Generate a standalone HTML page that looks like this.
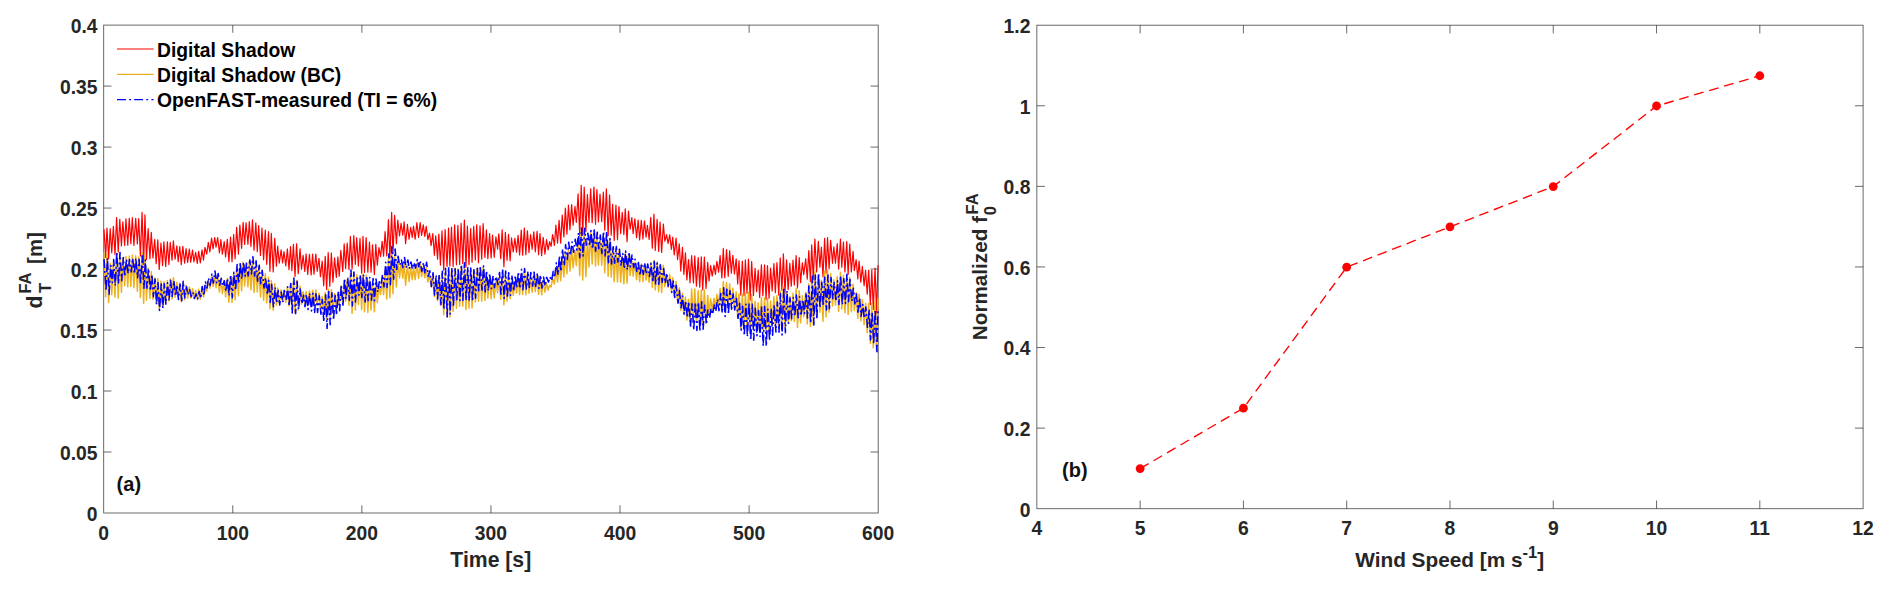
<!DOCTYPE html>
<html><head><meta charset="utf-8"><title>Figure</title>
<style>
html,body{margin:0;padding:0;background:#fff;}
svg{display:block}
text{font-family:"Liberation Sans",Arial,Helvetica,sans-serif;font-weight:bold;}
.t{font-size:19.3px;fill:#262626}
.lab{font-size:21.2px;fill:#262626}
.sup{font-size:16.6px;fill:#262626}
.leg{font-size:19.3px;fill:#000}
.ann{font-size:20px;fill:#111}
</style></head><body>
<svg width="1892" height="591" viewBox="0 0 1892 591">
<rect width="1892" height="591" fill="#fff"/>
<rect x="103.7" y="25.1" width="774.5" height="487.9" fill="none" stroke="#262626" stroke-width="0.85" opacity="0.8"/>
<text x="103.70" y="539.5" text-anchor="middle" class="t">0</text>
<path d="M232.78,513.0 v-7.7 M232.78,25.1 v7.7" stroke="#262626" stroke-width="0.85" opacity="0.8"/>
<text x="232.78" y="539.5" text-anchor="middle" class="t">100</text>
<path d="M361.87,513.0 v-7.7 M361.87,25.1 v7.7" stroke="#262626" stroke-width="0.85" opacity="0.8"/>
<text x="361.87" y="539.5" text-anchor="middle" class="t">200</text>
<path d="M490.95,513.0 v-7.7 M490.95,25.1 v7.7" stroke="#262626" stroke-width="0.85" opacity="0.8"/>
<text x="490.95" y="539.5" text-anchor="middle" class="t">300</text>
<path d="M620.03,513.0 v-7.7 M620.03,25.1 v7.7" stroke="#262626" stroke-width="0.85" opacity="0.8"/>
<text x="620.03" y="539.5" text-anchor="middle" class="t">400</text>
<path d="M749.12,513.0 v-7.7 M749.12,25.1 v7.7" stroke="#262626" stroke-width="0.85" opacity="0.8"/>
<text x="749.12" y="539.5" text-anchor="middle" class="t">500</text>
<text x="878.20" y="539.5" text-anchor="middle" class="t">600</text>
<text x="97.5" y="520.90" text-anchor="end" class="t">0</text>
<path d="M103.7,452.01 h7.7 M878.2,452.01 h-7.7" stroke="#262626" stroke-width="0.85" opacity="0.8"/>
<text x="97.5" y="459.91" text-anchor="end" class="t">0.05</text>
<path d="M103.7,391.02 h7.7 M878.2,391.02 h-7.7" stroke="#262626" stroke-width="0.85" opacity="0.8"/>
<text x="97.5" y="398.92" text-anchor="end" class="t">0.1</text>
<path d="M103.7,330.04 h7.7 M878.2,330.04 h-7.7" stroke="#262626" stroke-width="0.85" opacity="0.8"/>
<text x="97.5" y="337.94" text-anchor="end" class="t">0.15</text>
<path d="M103.7,269.05 h7.7 M878.2,269.05 h-7.7" stroke="#262626" stroke-width="0.85" opacity="0.8"/>
<text x="97.5" y="276.95" text-anchor="end" class="t">0.2</text>
<path d="M103.7,208.06 h7.7 M878.2,208.06 h-7.7" stroke="#262626" stroke-width="0.85" opacity="0.8"/>
<text x="97.5" y="215.96" text-anchor="end" class="t">0.25</text>
<path d="M103.7,147.08 h7.7 M878.2,147.08 h-7.7" stroke="#262626" stroke-width="0.85" opacity="0.8"/>
<text x="97.5" y="154.98" text-anchor="end" class="t">0.3</text>
<path d="M103.7,86.09 h7.7 M878.2,86.09 h-7.7" stroke="#262626" stroke-width="0.85" opacity="0.8"/>
<text x="97.5" y="93.99" text-anchor="end" class="t">0.35</text>
<text x="97.5" y="33.00" text-anchor="end" class="t">0.4</text>
<text x="490.8" y="567.4" text-anchor="middle" class="lab">Time [s]</text>
<text transform="translate(41.7,308.6) rotate(-90)" class="lab">d</text>
<text transform="translate(31.2,293.6) rotate(-90)" class="sup">FA</text>
<text transform="translate(50.8,293.0) rotate(-90)" class="sup">T</text>
<text transform="translate(41.7,263.9) rotate(-90)" class="lab" style="font-size:20.4px">[m]</text>
<text x="116.6" y="490.7" class="ann">(a)</text>
<path d="M117,49 H153.6" stroke="#FF0000" stroke-width="1.2"/>
<text x="157" y="56.5" class="leg">Digital Shadow</text>
<path d="M117,74.4 H153.6" stroke="#EDB120" stroke-width="1.2"/>
<text x="157" y="82.1" class="leg">Digital Shadow (BC)</text>
<path d="M117,99.6 H153.6" stroke="#0000FF" stroke-width="1.2" stroke-dasharray="8.9 3.2 1.9 3.2"/>
<text x="157" y="107.2" class="leg">OpenFAST-measured (TI = 6%)</text>
<rect x="1036.85" y="25.2" width="826.25" height="483.5" fill="none" stroke="#262626" stroke-width="0.85" opacity="0.8"/>
<text x="1036.85" y="535.4" text-anchor="middle" class="t">4</text>
<path d="M1140.13,508.7 v-8.2 M1140.13,25.2 v8.2" stroke="#262626" stroke-width="0.85" opacity="0.8"/>
<text x="1140.13" y="535.4" text-anchor="middle" class="t">5</text>
<path d="M1243.41,508.7 v-8.2 M1243.41,25.2 v8.2" stroke="#262626" stroke-width="0.85" opacity="0.8"/>
<text x="1243.41" y="535.4" text-anchor="middle" class="t">6</text>
<path d="M1346.69,508.7 v-8.2 M1346.69,25.2 v8.2" stroke="#262626" stroke-width="0.85" opacity="0.8"/>
<text x="1346.69" y="535.4" text-anchor="middle" class="t">7</text>
<path d="M1449.97,508.7 v-8.2 M1449.97,25.2 v8.2" stroke="#262626" stroke-width="0.85" opacity="0.8"/>
<text x="1449.97" y="535.4" text-anchor="middle" class="t">8</text>
<path d="M1553.26,508.7 v-8.2 M1553.26,25.2 v8.2" stroke="#262626" stroke-width="0.85" opacity="0.8"/>
<text x="1553.26" y="535.4" text-anchor="middle" class="t">9</text>
<path d="M1656.54,508.7 v-8.2 M1656.54,25.2 v8.2" stroke="#262626" stroke-width="0.85" opacity="0.8"/>
<text x="1656.54" y="535.4" text-anchor="middle" class="t">10</text>
<path d="M1759.82,508.7 v-8.2 M1759.82,25.2 v8.2" stroke="#262626" stroke-width="0.85" opacity="0.8"/>
<text x="1759.82" y="535.4" text-anchor="middle" class="t">11</text>
<text x="1863.10" y="535.4" text-anchor="middle" class="t">12</text>
<text x="1030.4" y="516.60" text-anchor="end" class="t">0</text>
<path d="M1036.85,428.12 h8.2 M1863.1,428.12 h-8.2" stroke="#262626" stroke-width="0.85" opacity="0.8"/>
<text x="1030.4" y="436.02" text-anchor="end" class="t">0.2</text>
<path d="M1036.85,347.53 h8.2 M1863.1,347.53 h-8.2" stroke="#262626" stroke-width="0.85" opacity="0.8"/>
<text x="1030.4" y="355.43" text-anchor="end" class="t">0.4</text>
<path d="M1036.85,266.95 h8.2 M1863.1,266.95 h-8.2" stroke="#262626" stroke-width="0.85" opacity="0.8"/>
<text x="1030.4" y="274.85" text-anchor="end" class="t">0.6</text>
<path d="M1036.85,186.37 h8.2 M1863.1,186.37 h-8.2" stroke="#262626" stroke-width="0.85" opacity="0.8"/>
<text x="1030.4" y="194.27" text-anchor="end" class="t">0.8</text>
<path d="M1036.85,105.78 h8.2 M1863.1,105.78 h-8.2" stroke="#262626" stroke-width="0.85" opacity="0.8"/>
<text x="1030.4" y="113.68" text-anchor="end" class="t">1</text>
<text x="1030.4" y="33.10" text-anchor="end" class="t">1.2</text>
<text x="1449.7" y="567.4" text-anchor="middle" class="lab" style="font-size:20.8px">Wind Speed [m s<tspan dy="-9.8" font-size="16.5">-1</tspan><tspan dy="9.8">]</tspan></text>
<text transform="translate(987,340.2) rotate(-90)" class="lab" style="font-size:20.7px">Normalized f</text>
<text transform="translate(977.8,214.4) rotate(-90)" class="sup">FA</text>
<text transform="translate(996.1,215.2) rotate(-90)" class="sup">0</text>
<text x="1062" y="477.2" class="ann">(b)</text>
<path d="M1140.13,468.61 L1243.41,408.17 L1346.69,267.15 L1449.97,226.86 L1553.26,186.57 L1656.54,105.98 L1759.82,75.76" fill="none" stroke="#FF0000" stroke-width="1.35" stroke-dasharray="9.8 5.8"/>
<circle cx="1140.13" cy="468.61" r="4.4" fill="#FF0000"/>
<circle cx="1243.41" cy="408.17" r="4.4" fill="#FF0000"/>
<circle cx="1346.69" cy="267.15" r="4.4" fill="#FF0000"/>
<circle cx="1449.97" cy="226.86" r="4.4" fill="#FF0000"/>
<circle cx="1553.26" cy="186.57" r="4.4" fill="#FF0000"/>
<circle cx="1656.54" cy="105.98" r="4.4" fill="#FF0000"/>
<circle cx="1759.82" cy="75.76" r="4.4" fill="#FF0000"/>
<path d="M104.00,229.40 L105.66,257.35 L106.98,228.07 L108.67,258.97 L110.19,228.71 L111.75,252.83 L113.37,226.41 L115.00,254.77 L116.60,217.54 L118.23,252.00 L119.77,219.28 L121.45,245.88 L122.85,221.89 L124.68,245.40 L125.95,218.83 L127.76,245.24 L129.25,218.39 L130.88,243.74 L132.31,217.71 L133.91,245.48 L135.71,218.27 L137.35,244.00 L138.69,218.71 L140.41,255.93 L142.06,212.38 L143.64,264.76 L144.93,214.90 L146.49,259.36 L148.12,228.70 L149.96,258.81 L151.26,232.28 L152.95,257.93 L154.72,239.24 L156.15,263.66 L157.79,239.93 L159.23,269.47 L160.95,243.19 L162.58,265.56 L163.87,241.76 L165.71,266.48 L167.38,241.89 L168.87,264.56 L170.28,242.36 L172.04,260.15 L173.38,240.96 L175.08,259.21 L176.83,245.95 L178.19,261.57 L179.76,246.58 L181.29,264.59 L182.83,246.34 L184.64,263.25 L186.06,248.61 L187.66,262.42 L189.32,249.17 L190.74,262.09 L192.51,250.14 L193.93,261.79 L195.67,252.30 L197.29,263.35 L198.66,251.31 L200.35,262.84 L202.03,249.77 L203.51,260.24 L204.96,247.41 L206.71,254.10 L208.34,242.45 L209.87,251.82 L211.60,238.06 L213.05,249.02 L214.75,237.53 L216.05,247.27 L217.63,237.50 L219.45,252.83 L220.88,239.64 L222.38,254.13 L224.23,241.70 L225.61,256.96 L227.33,239.23 L228.90,261.68 L230.54,237.11 L232.02,261.66 L233.65,234.45 L235.09,258.80 L236.64,227.28 L238.44,254.24 L239.85,225.00 L241.63,248.30 L243.10,222.27 L244.66,244.38 L246.06,222.82 L247.94,244.29 L249.34,221.66 L250.97,246.56 L252.49,219.85 L254.01,250.16 L255.83,222.78 L257.29,251.72 L258.66,225.66 L260.46,255.37 L261.94,228.19 L263.59,259.81 L265.30,230.10 L266.69,264.32 L268.47,231.72 L269.94,271.35 L271.31,233.42 L273.21,271.92 L274.71,238.26 L276.40,266.18 L277.68,246.12 L279.25,263.26 L281.12,249.93 L282.61,263.01 L283.96,251.53 L285.79,265.88 L287.37,248.95 L289.01,269.68 L290.52,246.48 L291.88,270.66 L293.43,244.33 L295.01,276.45 L296.59,243.74 L298.25,273.65 L300.05,248.83 L301.51,269.09 L303.10,255.28 L304.78,271.43 L306.10,253.95 L307.74,274.54 L309.43,254.40 L311.15,274.98 L312.58,254.14 L313.97,274.13 L315.83,254.07 L317.20,271.32 L318.99,258.30 L320.42,276.61 L322.17,260.98 L323.71,285.80 L325.22,256.30 L326.65,289.41 L328.20,252.49 L329.80,286.29 L331.36,253.13 L332.96,282.21 L334.58,257.83 L336.34,277.42 L337.86,256.95 L339.24,276.11 L340.85,250.36 L342.75,271.38 L344.18,243.95 L345.63,268.39 L347.23,243.01 L348.99,269.75 L350.37,236.46 L352.09,268.88 L353.81,235.69 L355.34,264.32 L356.71,237.67 L358.38,265.97 L360.00,238.46 L361.66,273.16 L363.00,236.37 L364.53,272.37 L366.13,237.65 L367.86,272.18 L369.48,242.07 L371.04,272.13 L372.53,244.81 L374.36,274.58 L375.79,244.35 L377.30,265.15 L378.94,247.58 L380.59,256.75 L382.14,241.41 L383.58,256.21 L385.08,231.63 L386.77,255.85 L388.45,219.61 L389.88,258.06 L391.65,212.23 L392.98,253.81 L394.63,215.39 L396.41,243.66 L397.77,220.03 L399.51,235.95 L401.05,223.36 L402.77,235.24 L404.11,221.74 L405.62,243.60 L407.44,224.47 L409.04,239.26 L410.67,227.27 L412.26,237.45 L413.51,226.07 L415.16,239.26 L416.88,222.71 L418.58,237.52 L420.16,222.56 L421.60,235.34 L423.31,224.81 L424.79,236.42 L426.28,226.45 L427.89,239.67 L429.52,233.02 L431.08,245.69 L432.79,233.57 L434.37,255.19 L435.76,235.87 L437.55,259.25 L438.84,234.07 L440.41,265.04 L441.99,230.93 L443.70,270.33 L445.11,229.69 L447.02,266.50 L448.56,228.06 L449.85,266.08 L451.48,227.05 L453.12,266.56 L454.63,224.93 L456.45,264.65 L457.86,225.43 L459.66,264.41 L461.11,223.40 L462.80,263.54 L464.36,220.14 L465.97,267.25 L467.39,226.15 L469.00,264.56 L470.67,228.51 L472.06,262.21 L473.72,226.34 L475.34,259.97 L476.71,224.88 L478.49,262.67 L480.02,225.75 L481.73,259.26 L483.13,223.68 L484.92,257.53 L486.39,229.84 L487.83,258.75 L489.62,233.60 L491.14,258.06 L492.52,235.14 L494.23,257.31 L495.90,236.96 L497.57,249.12 L498.82,233.84 L500.75,258.77 L502.12,229.76 L503.91,266.62 L505.36,232.32 L507.02,260.23 L508.51,234.44 L510.11,260.79 L511.56,237.97 L513.25,251.83 L514.89,238.40 L516.51,252.21 L518.05,235.31 L519.61,254.84 L521.25,230.04 L522.64,255.10 L524.34,228.02 L525.84,254.68 L527.40,230.77 L528.99,252.54 L530.56,234.67 L532.11,249.17 L533.80,231.86 L535.31,251.81 L537.09,231.38 L538.56,254.67 L539.97,233.66 L541.63,255.62 L543.18,237.25 L544.93,254.08 L546.54,239.51 L548.13,249.84 L549.62,241.58 L551.06,246.41 L552.63,234.48 L554.43,245.37 L555.89,225.22 L557.57,243.07 L559.07,220.30 L560.70,243.17 L562.21,215.19 L563.88,236.97 L565.38,208.01 L566.93,234.09 L568.46,204.98 L569.94,229.63 L571.64,204.65 L573.11,225.10 L575.01,206.47 L576.31,222.45 L578.11,193.73 L579.71,235.70 L581.23,185.27 L582.77,234.75 L584.20,187.18 L585.89,231.38 L587.42,194.60 L588.96,222.47 L590.67,188.90 L592.15,222.61 L593.95,186.98 L595.53,224.32 L596.87,189.59 L598.40,221.85 L600.01,194.15 L601.70,221.61 L603.36,192.18 L604.75,230.31 L606.35,188.92 L608.15,235.42 L609.57,195.13 L611.22,235.24 L612.66,204.30 L614.20,240.43 L615.93,205.22 L617.49,239.65 L618.95,206.59 L620.70,233.55 L622.26,212.34 L623.88,234.55 L625.27,208.86 L627.07,241.76 L628.46,211.15 L630.15,229.11 L631.82,217.55 L633.13,233.76 L634.82,218.91 L636.59,237.58 L638.16,220.09 L639.63,239.92 L641.33,220.42 L642.94,239.06 L644.48,220.84 L646.07,237.12 L647.38,225.29 L649.15,239.51 L650.75,217.43 L652.30,248.20 L653.95,214.22 L655.25,250.44 L657.10,219.42 L658.66,251.51 L660.07,222.19 L661.65,252.45 L663.37,224.08 L664.84,241.25 L666.59,234.53 L668.04,243.34 L669.74,234.81 L671.40,249.45 L672.73,237.22 L674.25,254.86 L676.10,238.07 L677.55,259.65 L679.29,243.90 L680.75,271.06 L682.46,247.29 L683.88,274.36 L685.45,252.83 L686.89,280.01 L688.55,259.61 L690.01,282.82 L691.64,255.69 L693.43,282.90 L694.75,255.91 L696.45,286.13 L698.21,257.65 L699.73,287.13 L701.31,256.95 L702.71,289.93 L704.38,257.05 L706.01,288.58 L707.74,262.42 L709.03,280.92 L710.63,265.67 L712.21,276.07 L713.97,265.15 L715.44,274.45 L716.88,261.33 L718.62,272.09 L720.10,255.66 L721.89,277.98 L723.29,248.46 L724.77,277.77 L726.55,249.49 L728.22,276.28 L729.64,250.86 L731.35,273.11 L732.84,255.31 L734.43,273.93 L736.17,258.73 L737.69,284.03 L738.99,260.88 L740.82,295.27 L742.31,261.17 L744.06,295.61 L745.38,259.94 L746.98,293.20 L748.49,259.17 L750.19,300.08 L751.66,261.57 L753.43,295.47 L755.07,268.29 L756.61,291.75 L758.22,270.09 L759.64,297.36 L761.40,264.87 L762.83,295.82 L764.56,264.79 L766.07,299.66 L767.47,265.62 L769.03,298.28 L770.59,268.07 L772.18,290.89 L773.91,263.66 L775.36,292.70 L776.91,262.60 L778.75,295.13 L780.20,257.97 L781.91,290.18 L783.38,253.87 L784.96,293.36 L786.55,259.91 L788.13,289.61 L789.83,263.36 L791.26,286.10 L793.03,260.16 L794.29,285.03 L796.14,255.63 L797.49,288.00 L799.24,257.67 L800.60,282.65 L802.37,262.76 L803.76,274.67 L805.68,258.71 L807.25,279.08 L808.79,250.48 L810.41,281.56 L811.71,244.81 L813.30,279.45 L814.89,239.01 L816.62,271.90 L818.31,241.40 L819.92,267.13 L821.40,247.09 L822.98,276.84 L824.63,238.30 L826.02,273.32 L827.55,237.51 L829.10,268.90 L830.66,240.29 L832.49,263.28 L833.83,246.94 L835.46,263.24 L837.23,243.68 L838.63,269.21 L840.45,239.13 L841.78,267.27 L843.45,242.10 L844.95,271.91 L846.75,241.56 L848.13,274.31 L849.74,244.20 L851.34,271.86 L853.08,251.24 L854.33,270.77 L856.16,259.72 L857.80,278.86 L859.07,260.99 L860.83,282.16 L862.34,266.47 L864.11,285.78 L865.58,270.01 L867.21,294.10 L868.70,270.16 L870.35,304.77 L871.80,270.27 L873.28,309.36 L875.07,267.98 L876.55,313.02 L878.00,265.21" fill="none" stroke="#FF0000" stroke-width="1.2" stroke-linejoin="round"/>
<path d="M104.00,252.50 L105.66,296.96 L106.98,254.47 L108.67,302.47 L110.19,263.25 L111.75,294.81 L113.37,262.16 L115.00,296.92 L116.60,253.23 L118.23,298.05 L119.77,255.12 L121.45,292.49 L122.85,258.01 L124.68,285.66 L125.95,256.49 L127.76,286.86 L129.25,255.97 L130.88,286.59 L132.31,254.98 L133.91,287.64 L135.71,255.74 L137.35,291.28 L138.69,257.08 L140.41,297.35 L142.06,252.52 L143.64,303.50 L144.93,255.53 L146.49,300.11 L148.12,268.10 L149.96,298.39 L151.26,271.53 L152.95,299.24 L154.72,277.99 L156.15,303.61 L157.79,278.52 L159.23,308.91 L160.95,281.15 L162.58,306.10 L163.87,281.67 L165.71,303.44 L167.38,280.48 L168.87,301.05 L170.28,279.00 L172.04,298.94 L173.38,277.66 L175.08,297.22 L176.83,282.20 L178.19,299.11 L179.76,283.08 L181.29,301.64 L182.83,282.93 L184.64,299.69 L186.06,285.33 L187.66,298.26 L189.32,286.92 L190.74,298.06 L192.51,288.66 L193.93,298.35 L195.67,290.54 L197.29,299.72 L198.66,289.38 L200.35,299.21 L202.03,287.70 L203.51,297.02 L204.96,285.31 L206.71,291.16 L208.34,280.49 L209.87,288.21 L211.60,276.35 L213.05,286.32 L214.75,275.98 L216.05,287.72 L217.63,275.97 L219.45,292.06 L220.88,278.43 L222.38,293.71 L224.23,280.64 L225.61,297.03 L227.33,278.36 L228.90,302.26 L230.54,276.51 L232.02,302.45 L233.65,274.00 L235.09,299.63 L236.64,266.98 L238.44,295.77 L239.85,264.91 L241.63,290.84 L243.10,262.32 L244.66,285.92 L246.06,262.91 L247.94,286.86 L249.34,262.06 L250.97,289.84 L252.49,260.38 L254.01,292.56 L255.83,263.42 L257.29,292.07 L258.66,266.47 L260.46,296.93 L261.94,269.71 L263.59,300.18 L265.30,273.62 L266.69,302.70 L268.47,277.21 L269.94,308.68 L271.31,280.48 L273.21,310.17 L274.71,283.76 L276.40,305.29 L277.68,288.06 L279.25,302.93 L281.12,289.72 L282.61,301.72 L283.96,290.24 L285.79,302.35 L287.37,286.89 L289.01,305.98 L290.52,283.79 L291.88,308.19 L293.43,281.06 L295.01,312.78 L296.59,280.58 L298.25,309.96 L300.05,286.12 L301.51,304.24 L303.10,291.66 L304.78,303.34 L306.10,291.57 L307.74,305.44 L309.43,290.99 L311.15,306.59 L312.58,290.28 L313.97,306.10 L315.83,290.07 L317.20,304.89 L318.99,293.19 L320.42,308.26 L322.17,296.53 L323.71,314.70 L325.22,292.51 L326.65,319.69 L328.20,289.36 L329.80,316.76 L331.36,289.55 L332.96,312.71 L334.58,293.54 L336.34,307.56 L337.86,292.93 L339.24,305.11 L340.85,286.24 L342.75,302.72 L344.18,280.26 L345.63,301.24 L347.23,279.49 L348.99,305.23 L350.37,273.22 L352.09,313.57 L353.81,272.58 L355.34,309.97 L356.71,274.67 L358.38,304.52 L360.00,275.85 L361.66,309.65 L363.00,273.93 L364.53,311.69 L366.13,275.25 L367.86,312.53 L369.48,279.92 L371.04,310.33 L372.53,282.94 L374.36,311.63 L375.79,282.58 L377.30,302.73 L378.94,286.11 L380.59,294.51 L382.14,280.18 L383.58,294.77 L385.08,270.55 L386.77,299.00 L388.45,258.84 L389.88,297.60 L391.65,251.56 L392.98,293.81 L394.63,254.99 L396.41,287.12 L397.77,259.59 L399.51,278.00 L401.05,263.40 L402.77,278.15 L404.11,261.90 L405.62,285.19 L407.44,264.75 L409.04,281.51 L410.67,267.79 L412.26,279.71 L413.51,266.81 L415.16,279.60 L416.88,263.61 L418.58,278.48 L420.16,263.63 L421.60,276.66 L423.31,266.02 L424.79,277.74 L426.28,267.84 L427.89,281.91 L429.52,274.61 L431.08,286.58 L432.79,275.41 L434.37,296.71 L435.76,277.85 L437.55,300.60 L438.84,276.35 L440.41,304.93 L441.99,273.41 L443.70,314.68 L445.11,272.43 L447.02,316.13 L448.56,271.17 L449.85,316.97 L451.48,270.24 L453.12,311.35 L454.63,268.13 L456.45,308.26 L457.86,268.76 L459.66,306.14 L461.11,267.05 L462.80,306.28 L464.36,263.94 L465.97,309.54 L467.39,269.89 L469.00,308.22 L470.67,272.37 L472.06,307.99 L473.72,270.15 L475.34,301.94 L476.71,268.73 L478.49,301.15 L480.02,269.30 L481.73,301.20 L483.13,267.48 L484.92,300.53 L486.39,273.64 L487.83,298.11 L489.62,277.35 L491.14,298.69 L492.52,278.83 L494.23,298.05 L495.90,280.79 L497.57,292.77 L498.82,277.66 L500.75,299.13 L502.12,273.26 L503.91,304.85 L505.36,275.91 L507.02,301.13 L508.51,278.18 L510.11,298.71 L511.56,281.61 L513.25,295.49 L514.89,282.22 L516.51,293.03 L518.05,278.91 L519.61,294.52 L521.25,273.62 L522.64,294.56 L524.34,271.68 L525.84,294.71 L527.40,274.49 L528.99,293.13 L530.56,278.40 L532.11,292.29 L533.80,275.69 L535.31,291.55 L537.09,275.26 L538.56,294.37 L539.97,277.36 L541.63,294.84 L543.18,280.93 L544.93,292.19 L546.54,283.15 L548.13,290.20 L549.62,285.35 L551.06,286.97 L552.63,278.31 L554.43,283.93 L555.89,269.04 L557.57,282.09 L559.07,264.10 L560.70,280.75 L562.21,258.70 L563.88,276.96 L565.38,251.56 L566.93,273.66 L568.46,248.74 L569.94,270.92 L571.64,248.40 L573.11,267.92 L575.01,250.21 L576.31,265.72 L578.11,237.51 L579.71,275.63 L581.23,229.06 L582.77,280.01 L584.20,231.04 L585.89,276.61 L587.42,238.43 L588.96,266.90 L590.67,232.63 L592.15,263.92 L593.95,230.80 L595.53,265.93 L596.87,233.27 L598.40,265.00 L600.01,238.01 L601.70,265.17 L603.36,235.93 L604.75,272.77 L606.35,232.73 L608.15,276.33 L609.57,238.89 L611.22,277.06 L612.66,248.09 L614.20,281.73 L615.93,249.03 L617.49,281.89 L618.95,250.38 L620.70,282.25 L622.26,256.53 L623.88,283.71 L625.27,252.66 L627.07,283.32 L628.46,254.95 L630.15,275.32 L631.82,261.34 L633.13,276.06 L634.82,262.74 L636.59,279.67 L638.16,263.82 L639.63,281.64 L641.33,264.15 L642.94,281.68 L644.48,264.65 L646.07,280.05 L647.38,269.12 L649.15,282.38 L650.75,262.77 L652.30,287.27 L653.95,260.33 L655.25,289.83 L657.10,262.33 L658.66,291.81 L660.07,264.20 L661.65,292.47 L663.37,265.33 L664.84,286.72 L666.59,274.27 L668.04,287.41 L669.74,274.46 L671.40,291.50 L672.73,277.82 L674.25,296.43 L676.10,281.46 L677.55,301.95 L679.29,288.11 L680.75,310.32 L682.46,293.18 L683.88,314.47 L685.45,297.00 L686.89,320.10 L688.55,299.17 L690.01,325.09 L691.64,288.96 L693.43,320.34 L694.75,289.02 L696.45,321.59 L698.21,290.77 L699.73,322.11 L701.31,290.06 L702.71,324.59 L704.38,290.05 L706.01,323.18 L707.74,295.40 L709.03,315.14 L710.63,298.66 L712.21,309.96 L713.97,298.14 L715.44,308.00 L716.88,294.34 L718.62,305.34 L720.10,288.66 L721.89,311.02 L723.29,281.46 L724.77,310.84 L726.55,282.49 L728.22,309.38 L729.64,283.85 L731.35,306.26 L732.84,288.31 L734.43,307.15 L736.17,291.73 L737.69,317.28 L738.99,293.89 L740.82,328.58 L742.31,294.18 L744.06,328.94 L745.38,292.95 L746.98,326.58 L748.49,292.18 L750.19,333.51 L751.66,294.59 L753.43,328.93 L755.07,301.32 L756.61,325.26 L758.22,303.10 L759.64,330.93 L761.40,297.86 L762.83,329.39 L764.56,297.78 L766.07,333.33 L767.47,298.62 L769.03,331.95 L770.59,301.11 L772.18,324.57 L773.91,296.67 L775.36,326.50 L776.91,295.63 L778.75,328.96 L780.20,290.99 L781.91,324.07 L783.38,286.88 L784.96,327.24 L786.55,292.95 L788.13,323.52 L789.83,296.38 L791.26,320.65 L793.03,293.22 L794.29,321.55 L796.14,288.64 L797.49,327.38 L799.24,290.76 L800.60,323.06 L802.37,295.79 L803.76,316.69 L805.68,292.36 L807.25,323.85 L808.79,283.89 L810.41,326.45 L811.71,278.34 L813.30,324.75 L814.89,271.84 L816.62,316.94 L818.31,274.95 L819.92,312.21 L821.40,280.58 L822.98,321.51 L824.63,271.27 L826.02,317.05 L827.55,270.64 L829.10,312.26 L830.66,273.64 L832.49,306.07 L833.83,279.86 L835.46,305.24 L837.23,276.58 L838.63,311.25 L840.45,272.24 L841.78,309.00 L843.45,275.30 L844.95,312.76 L846.75,274.91 L848.13,314.51 L849.74,277.58 L851.34,311.69 L853.08,284.14 L854.33,310.40 L856.16,292.77 L857.80,318.35 L859.07,294.11 L860.83,321.01 L862.34,299.79 L864.11,324.82 L865.58,303.30 L867.21,332.82 L868.70,303.17 L870.35,343.35 L871.80,303.40 L873.28,347.71 L875.07,301.15 L876.55,350.90 L878.00,298.15" fill="none" stroke="#EDB120" stroke-width="1.5" stroke-linejoin="round"/>
<path d="M104.00,259.10 L106.01,290.77 L107.44,258.06 L109.10,294.37 L110.81,265.48 L112.39,282.69 L113.70,259.44 L115.31,285.65 L116.83,252.50 L118.55,283.87 L119.98,252.53 L121.72,280.74 L123.37,257.61 L124.81,276.67 L126.54,258.97 L128.08,273.64 L129.46,259.49 L131.23,271.98 L132.71,258.28 L134.34,273.91 L135.87,258.13 L137.60,277.70 L139.09,259.34 L140.57,282.59 L142.29,255.83 L143.95,288.30 L145.36,259.93 L146.91,288.14 L148.55,268.51 L150.33,290.96 L151.92,274.26 L153.39,296.61 L155.06,278.91 L156.62,304.54 L158.03,282.55 L159.51,310.35 L161.29,283.92 L162.83,308.29 L164.34,283.80 L165.87,304.10 L167.52,282.81 L169.12,300.69 L170.63,280.29 L172.22,296.53 L173.86,280.71 L175.58,296.28 L177.06,284.94 L178.53,299.53 L180.11,284.32 L181.76,300.68 L183.25,281.30 L184.82,297.98 L186.52,286.71 L187.94,294.73 L189.67,289.55 L191.20,296.61 L192.91,292.31 L194.50,298.55 L196.06,293.97 L197.64,299.29 L199.11,291.50 L200.79,298.43 L202.25,286.44 L203.92,295.65 L205.41,281.79 L207.03,288.01 L208.47,278.08 L210.12,285.44 L211.96,274.14 L213.28,283.04 L215.02,271.05 L216.59,282.72 L218.19,273.57 L219.68,285.11 L221.31,278.36 L222.70,286.06 L224.28,280.79 L225.90,291.29 L227.47,278.25 L229.03,295.73 L230.62,274.89 L232.35,297.80 L233.80,272.36 L235.65,290.51 L237.14,264.52 L238.67,283.68 L240.31,262.55 L241.73,279.12 L243.55,261.98 L245.09,276.15 L246.63,263.26 L248.12,275.91 L249.84,259.94 L251.38,273.94 L252.93,256.73 L254.60,276.08 L256.08,260.89 L257.56,281.24 L259.21,265.33 L260.66,283.66 L262.24,270.48 L264.01,287.99 L265.61,277.43 L267.26,295.00 L268.80,280.32 L270.27,302.34 L271.68,284.37 L273.41,306.80 L275.15,287.28 L276.68,303.19 L278.15,290.35 L279.72,304.98 L281.21,292.06 L282.78,302.44 L284.32,290.49 L286.19,300.03 L287.68,286.89 L289.08,306.20 L290.76,283.64 L292.21,313.04 L293.85,277.97 L295.62,313.60 L297.17,281.32 L298.68,309.38 L300.19,288.96 L301.91,303.86 L303.60,295.37 L304.99,306.61 L306.44,294.68 L308.01,309.38 L309.60,293.29 L311.50,310.86 L312.93,293.30 L314.61,313.22 L315.95,293.76 L317.57,312.49 L319.30,295.83 L320.95,314.27 L322.33,299.53 L323.82,321.90 L325.68,294.82 L327.06,328.58 L328.80,291.49 L330.17,324.72 L331.94,292.86 L333.57,320.09 L335.11,295.25 L336.56,315.11 L338.27,291.58 L339.64,310.63 L341.29,284.99 L342.90,306.62 L344.65,278.44 L345.97,298.40 L347.81,278.31 L349.36,300.33 L351.00,270.03 L352.36,305.87 L353.89,271.99 L355.48,301.92 L357.27,276.05 L358.90,295.07 L360.38,274.84 L361.89,297.56 L363.40,274.46 L365.17,302.01 L366.77,275.77 L368.07,300.69 L369.69,277.55 L371.49,300.31 L373.08,278.56 L374.47,300.68 L376.03,278.99 L377.67,292.03 L379.29,281.79 L380.71,287.34 L382.55,274.50 L384.02,286.83 L385.69,262.39 L387.08,287.54 L388.92,253.82 L390.42,284.62 L391.86,246.48 L393.65,279.28 L395.14,249.14 L396.77,269.49 L398.07,256.25 L399.65,265.30 L401.48,260.09 L402.90,267.61 L404.56,257.43 L406.01,267.81 L407.88,259.97 L409.29,268.74 L410.99,261.97 L412.30,269.02 L414.02,262.46 L415.45,268.09 L417.33,259.49 L418.75,266.80 L420.20,260.43 L421.78,271.44 L423.53,262.35 L424.94,273.62 L426.56,262.17 L428.23,276.18 L429.83,270.80 L431.44,286.55 L433.04,272.85 L434.53,295.07 L436.19,275.09 L437.61,298.89 L439.23,274.59 L441.00,304.80 L442.35,271.21 L443.95,309.63 L445.54,268.34 L447.20,317.07 L448.61,267.06 L450.20,314.09 L451.94,267.68 L453.41,306.93 L455.18,268.75 L456.80,299.72 L458.30,268.48 L459.92,300.46 L461.39,264.51 L462.85,300.51 L464.57,262.81 L466.13,300.39 L467.79,267.13 L469.20,300.84 L470.81,267.12 L472.61,301.51 L473.99,268.89 L475.62,298.19 L477.39,268.19 L478.73,290.73 L480.26,265.83 L482.04,290.12 L483.58,265.75 L485.17,291.87 L486.55,270.64 L488.26,290.85 L489.69,273.67 L491.36,288.67 L493.11,275.79 L494.45,287.65 L496.12,276.36 L497.95,284.71 L499.52,272.46 L500.93,294.21 L502.60,269.01 L504.14,298.37 L505.66,270.91 L507.38,297.52 L508.71,272.80 L510.53,295.33 L511.83,275.13 L513.70,291.24 L515.22,275.27 L516.71,288.06 L518.37,271.82 L519.88,288.57 L521.57,269.26 L522.91,289.69 L524.63,268.46 L526.35,288.94 L527.95,271.40 L529.27,287.50 L530.86,272.56 L532.68,286.10 L534.06,272.15 L535.53,287.62 L537.35,272.90 L538.82,288.32 L540.52,274.96 L542.00,288.05 L543.59,277.07 L545.14,286.02 L546.68,277.35 L548.48,282.00 L549.97,276.95 L551.60,280.80 L553.21,271.29 L554.56,277.70 L556.38,262.75 L557.94,274.92 L559.39,255.99 L561.00,271.66 L562.41,248.90 L564.23,265.81 L565.59,244.65 L567.30,259.36 L568.74,242.36 L570.30,255.58 L572.07,241.93 L573.61,252.29 L575.25,239.24 L576.88,250.02 L578.53,232.95 L579.78,257.72 L581.56,228.13 L583.12,255.90 L584.73,228.22 L586.27,245.15 L587.85,233.19 L589.54,246.09 L590.97,230.64 L592.58,249.01 L594.22,230.13 L595.58,251.27 L597.29,232.34 L598.75,248.74 L600.34,235.01 L601.87,253.53 L603.53,231.50 L605.11,256.03 L606.80,231.83 L608.40,262.68 L610.07,238.65 L611.53,263.96 L613.25,246.67 L614.65,263.12 L616.36,246.55 L617.87,262.25 L619.48,249.21 L620.93,265.15 L622.75,253.43 L624.27,268.91 L625.62,251.00 L627.35,269.77 L629.09,251.83 L630.33,266.84 L632.00,254.94 L633.74,267.55 L635.07,259.26 L636.90,272.05 L638.42,262.61 L640.06,275.48 L641.57,263.28 L643.29,274.34 L644.66,262.93 L646.32,274.17 L647.71,263.91 L649.47,276.44 L651.00,263.28 L652.79,282.19 L654.35,261.57 L655.64,284.47 L657.19,263.03 L658.80,284.17 L660.40,264.90 L662.17,282.30 L663.69,268.47 L665.26,283.26 L666.82,273.07 L668.23,286.19 L669.95,277.64 L671.75,292.39 L673.27,280.97 L674.76,297.50 L676.20,285.39 L678.04,303.28 L679.44,290.45 L681.10,307.62 L682.53,295.97 L684.15,314.00 L685.74,300.86 L687.33,317.82 L688.78,301.60 L690.59,326.07 L691.99,303.70 L693.73,329.98 L695.32,302.36 L696.92,330.37 L698.36,302.28 L699.94,331.21 L701.68,301.89 L703.13,329.17 L704.63,305.30 L706.48,324.44 L707.74,309.94 L709.63,318.01 L711.00,308.36 L712.61,314.42 L714.40,304.28 L715.79,311.42 L717.47,299.39 L718.94,310.72 L720.70,293.60 L722.21,313.13 L723.71,287.78 L725.14,316.44 L726.82,289.27 L728.45,313.86 L729.95,290.52 L731.62,309.29 L733.09,293.92 L734.77,310.00 L736.36,297.79 L737.99,318.33 L739.60,303.32 L741.17,330.08 L742.64,306.19 L744.24,335.52 L745.97,304.22 L747.36,336.52 L749.08,303.01 L750.75,340.06 L752.30,304.28 L753.75,340.26 L755.24,308.23 L756.94,335.81 L758.54,310.63 L760.06,336.57 L761.57,307.10 L763.20,346.14 L764.64,306.59 L766.30,346.35 L767.82,309.27 L769.59,340.64 L771.28,309.42 L772.57,335.16 L774.10,304.74 L775.94,331.89 L777.38,302.12 L779.01,332.20 L780.43,293.65 L782.06,334.90 L783.82,287.44 L785.37,332.79 L787.04,290.89 L788.66,323.31 L790.02,297.92 L791.70,318.72 L793.21,297.65 L794.81,316.50 L796.35,295.09 L798.14,317.68 L799.60,296.77 L801.00,316.02 L802.78,299.75 L804.46,313.60 L806.01,292.79 L807.47,317.95 L808.86,286.04 L810.72,323.62 L812.35,276.03 L813.86,324.99 L815.33,275.10 L816.89,319.13 L818.60,273.61 L819.95,307.46 L821.77,282.28 L823.25,306.29 L824.68,277.27 L826.53,309.90 L827.95,274.99 L829.43,308.64 L831.03,277.52 L832.86,298.80 L834.19,282.50 L835.99,301.31 L837.58,280.89 L838.90,304.45 L840.61,275.62 L842.32,304.81 L843.79,278.67 L845.50,303.42 L846.91,274.20 L848.58,301.63 L850.01,279.43 L851.82,300.93 L853.39,288.33 L854.88,303.96 L856.37,293.66 L857.96,312.06 L859.63,297.93 L861.04,316.50 L862.76,304.44 L864.26,318.29 L865.86,307.06 L867.43,327.34 L869.19,310.29 L870.54,339.95 L872.14,312.00 L873.69,343.91 L875.22,309.53 L876.95,351.64 L878.00,310.85" fill="none" stroke="#0000FF" stroke-width="1.55" stroke-dasharray="8.9 3.0 1.9 3.0" stroke-linejoin="round"/>
</svg>
</body></html>
